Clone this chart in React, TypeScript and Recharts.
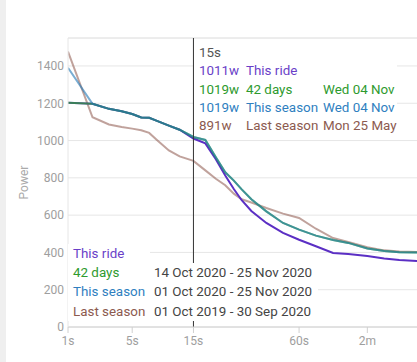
import { LineChart, Line, CartesianGrid, XAxis, YAxis, ReferenceLine } from 'recharts';

// durations in seconds, best power in watts
const durations = [1, 2, 3, 4, 5, 6, 7, 8, 10, 12, 15, 18, 21, 24, 27, 30, 34, 41, 50, 60, 72, 86, 100, 120, 140, 160, 186];
const thisRide = [1203, 1197, 1170, 1157, 1142, 1124, 1122, 1107, 1080, 1058, 1011, 985, 900, 812, 740, 680, 622, 558, 505, 468, 433, 397, 391, 381, 368, 359, 354];
const days42 = [1203, 1197, 1170, 1157, 1142, 1124, 1122, 1107, 1080, 1058, 1019, 1003, 910, 830, 785, 738, 685, 620, 558, 522, 490, 467, 451, 421, 408, 401, 399];
const thisSeason = [1390, 1197, 1170, 1157, 1142, 1124, 1122, 1107, 1080, 1058, 1019, 1003, 910, 830, 785, 738, 685, 620, 558, 522, 490, 467, 451, 421, 408, 401, 399];
const lastSeason = [1477, 1125, 1086, 1073, 1064, 1055, 1041, 1006, 947, 915, 891, 840, 795, 760, 715, 685, 668, 638, 608, 585, 527, 477, 456, 428, 411, 405, 402];

const xTicks = [1, 5, 15, 60, 120];
const xTickLabels = ['1s', '5s', '15s', '60s', '2m'];
const yTicks = [0, 200, 400, 600, 800, 1000, 1200, 1400];

const hoverSecs = 15;
const hoverLabel = '15s';
const tipRows = [
  { watts: '1011w', name: 'This ride', date: '', color: '#6a3fc8' },
  { watts: '1019w', name: '42 days', date: 'Wed 04 Nov', color: '#2e9a2e' },
  { watts: '1019w', name: 'This season', date: 'Wed 04 Nov', color: '#2f7fbf' },
  { watts: '891w', name: 'Last season', date: 'Mon 25 May', color: '#8c5a4f' },
];

const legendRows = [
  { name: 'This ride', range: '', color: '#6a3fc8' },
  { name: '42 days', range: '14 Oct 2020 - 25 Nov 2020', color: '#2e9a2e' },
  { name: 'This season', range: '01 Oct 2020 - 25 Nov 2020', color: '#2f7fbf' },
  { name: 'Last season', range: '01 Oct 2019 - 30 Sep 2020', color: '#8c5a4f' },
];

const data = durations.map((t, i) => ({
  t,
  ride: thisRide[i],
  d42: days42[i],
  season: thisSeason[i],
  last: lastSeason[i],
}));

// minimal power scale (exponent 0.25) in the d3 scale shape recharts expects
function powerScale(exp: number): any {
  let dom = [1, 2];
  let rng = [0, 1];
  const f: any = (v: number) => {
    const a = Math.pow(dom[0], exp);
    const b = Math.pow(dom[1], exp);
    return rng[0] + ((Math.pow(v, exp) - a) / (b - a)) * (rng[1] - rng[0]);
  };
  f.domain = (d?: any[]) => {
    if (d === undefined) return dom;
    dom = d.map(Number);
    return f;
  };
  f.range = (r?: any[]) => {
    if (r === undefined) return rng;
    rng = r.map(Number);
    return f;
  };
  f.invert = (px: number) => {
    const a = Math.pow(dom[0], exp);
    const b = Math.pow(dom[1], exp);
    return Math.pow(a + ((px - rng[0]) / (rng[1] - rng[0])) * (b - a), 1 / exp);
  };
  f.ticks = () => xTicks;
  f.tickFormat = () => (v: number) => String(v);
  f.copy = () => powerScale(exp).domain(dom).range(rng);
  return f;
}

const FONT = 'Roboto, "Noto Sans", sans-serif';
const AXIS_TEXT = '#9e9e9e';

export default function App() {
  return (
    <div style={{ position: 'absolute', left: 0, top: 0, width: 417, height: 362, background: '#fff', fontFamily: FONT, overflow: 'hidden' }}>
      <div style={{ position: 'absolute', left: 0, top: 0, width: 6, height: 362, background: '#efefef' }} />
      <LineChart width={417} height={362} data={data} margin={{ top: 38, right: 0, bottom: 5, left: 8 }}>
        <CartesianGrid stroke='#e6e6e6' vertical={false} />
        <ReferenceLine y={1550} stroke='#e6e6e6' />
        <XAxis
          dataKey='t'
          type='number'
          scale={powerScale(0.25)}
          domain={[1, 186]}
          allowDataOverflow
          ticks={xTicks}
          tickFormatter={(v) => xTickLabels[xTicks.indexOf(v)] ?? ''}
          height={30}
          tick={{ fill: AXIS_TEXT, fontSize: 12, fontFamily: FONT }}
          axisLine={{ stroke: '#d0d0d0' }}
          tickLine={{ stroke: '#d0d0d0' }}
          tickMargin={3}
        />
        <YAxis
          width={60}
          domain={[0, 1550]}
          ticks={yTicks}
          allowDataOverflow
          tick={{ fill: AXIS_TEXT, fontSize: 12, fontFamily: FONT }}
          axisLine={{ stroke: '#e6e6e6' }}
          tickLine={false}
          tickSize={2}
          tickMargin={2}
          label={{
            content: (p: any) => {
              const vb = p.viewBox || { y: 38, height: 289 };
              const cy = vb.y + vb.height / 2;
              return (
                <text x={24} y={cy} transform={`rotate(-90, 24, ${cy})`} textAnchor='middle' dominantBaseline='central' fill='#aaaaaa' fontSize={12} fontFamily={FONT}>
                  Power
                </text>
              );
            },
          }}
        />
        <Line type='linear' dataKey='last' stroke='#8c564b' strokeOpacity={0.55} strokeWidth={2} dot={false} isAnimationActive={false} />
        <Line type='linear' dataKey='ride' stroke='#5b2fc4' strokeWidth={2} dot={false} isAnimationActive={false} />
        <Line type='linear' dataKey='d42' stroke='#2ca02c' strokeOpacity={0.7} strokeWidth={2} dot={false} isAnimationActive={false} />
        <Line type='linear' dataKey='season' stroke='#1f77b4' strokeOpacity={0.6} strokeWidth={2} dot={false} isAnimationActive={false} />
        <ReferenceLine x={hoverSecs} stroke='#333' strokeWidth={1} />
      </LineChart>

      {/* hover readout */}
      <div style={{ position: 'absolute', left: 194, top: 39, width: 203, height: 97, background: '#fff', padding: '5px 0 0 5px', boxSizing: 'border-box', fontSize: 13.4, lineHeight: '18.3px', whiteSpace: 'nowrap' }}>
        <div style={{ color: '#555' }}>{hoverLabel}</div>
        {tipRows.map((r) => (
          <div key={r.name} style={{ display: 'flex', color: r.color }}>
            <span style={{ width: 47 }}>{r.watts}</span>
            <span style={{ width: 77 }}>{r.name}</span>
            <span>{r.date}</span>
          </div>
        ))}
      </div>

      {/* date range key */}
      <div style={{ position: 'absolute', left: 68, top: 244, fontSize: 13.4, lineHeight: '19.2px', whiteSpace: 'nowrap' }}>
        {legendRows.map((r) => (
          <div key={r.name} style={{ display: 'flex' }}>
            <span style={{ width: 77, paddingLeft: 5, background: '#fff', color: r.color }}>{r.name}</span>
            {r.range ? <span style={{ width: 164, paddingLeft: 4, background: '#fff', color: '#444' }}>{r.range}</span> : null}
          </div>
        ))}
      </div>
    </div>
  );
}
